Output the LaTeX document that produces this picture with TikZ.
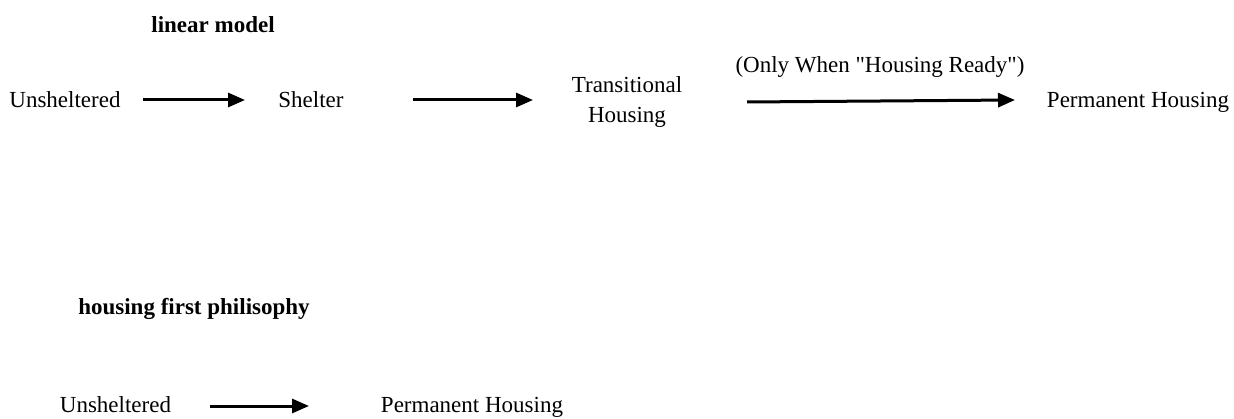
\documentclass[tikz,border=0pt]{standalone}
\usepackage{fontspec}
% straight double quotes stay straight without the TeX mapping
\setmainfont{Liberation Serif}[Ligatures=TeXOff]
\usetikzlibrary{arrows.meta}
\begin{document}
\begin{tikzpicture}[x=1pt,y=-1pt,
  lbl/.style={inner sep=0pt,anchor=base,font=\fontsize{23}{30}\selectfont},
  head/.style={inner sep=0pt,anchor=base,font=\fontsize{23}{30}\selectfont\bfseries},
  flow/.style={line width=3pt,-{Triangle[length=17pt,width=14pt]}}]
\useasboundingbox (0,0) rectangle (1234,419);
% linear model
\node[head] (h1) at (213,33) {linear model};
\node[lbl] (u1) at (65,108) {Unsheltered};
\node[lbl] (s1) at (311,108) {Shelter};
% base of a two-line node is the baseline of its last line
\node[lbl,align=center] (t1) at (627,123) {Transitional\\Housing};
\node[lbl] (p1) at (1138,108) {Permanent Housing};
\node[lbl] (c1) at (880,73) {(Only When "Housing Ready")};
\coordinate (a1s) at (143,100); \coordinate (a1e) at (245,100);
\coordinate (a2s) at (413,100); \coordinate (a2e) at (533,100);
\coordinate (a3s) at (747,102); \coordinate (a3e) at (1015,100);
\draw[flow] (a1s) -- (a1e);
\draw[flow] (a2s) -- (a2e);
\draw[flow] (a3s) -- (a3e);
% housing first
\node[head] (h2) at (194,315) {housing first philisophy};
\node[lbl] (u2) at (115.5,413) {Unsheltered};
\node[lbl] (p2) at (472,413) {Permanent Housing};
\coordinate (a4s) at (210,406); \coordinate (a4e) at (309,406);
\draw[flow] (a4s) -- (a4e);
\end{tikzpicture}
\end{document}
